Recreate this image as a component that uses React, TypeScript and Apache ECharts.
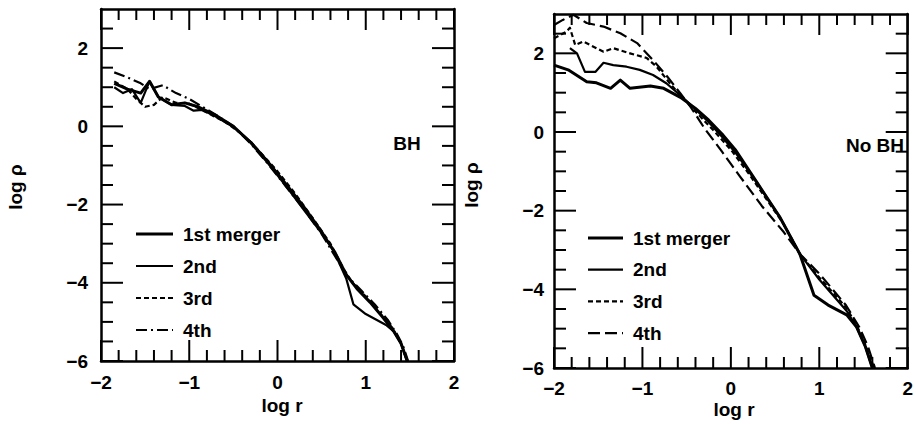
import React, { useEffect, useRef } from "react";
import * as echarts from "echarts";

// ---------- data: left panel (BH) ----------
const bh1X = [-1.85, -1.7, -1.55, -1.45, -1.35, -1.2, -1.05, -0.9, -0.7, -0.5, -0.3, -0.1, 0.1, 0.3, 0.5, 0.65, 0.78, 0.9, 1.05, 1.2, 1.32, 1.4, 1.47];
const bh1Y = [1.1, 0.95, 0.85, 1.15, 0.75, 0.55, 0.6, 0.5, 0.28, 0.0, -0.42, -0.95, -1.52, -2.12, -2.72, -3.22, -3.8, -4.15, -4.5, -4.9, -5.25, -5.55, -6.0];
const bh2X = [-1.85, -1.75, -1.65, -1.55, -1.45, -1.35, -1.2, -1.05, -0.95, -0.85, -0.7, -0.5, -0.3, -0.1, 0.1, 0.3, 0.5, 0.65, 0.78, 0.86, 1.0, 1.23, 1.32, 1.4, 1.47];
const bh2Y = [1.0, 0.85, 0.95, 0.6, 1.15, 0.75, 0.55, 0.52, 0.4, 0.42, 0.25, -0.02, -0.4, -0.92, -1.47, -2.05, -2.68, -3.25, -3.9, -4.55, -4.8, -5.08, -5.25, -5.55, -6.02];
const bh3X = [-1.85, -1.7, -1.6, -1.5, -1.4, -1.3, -1.15, -1.0, -0.8, -0.6, -0.4, -0.2, 0.0, 0.2, 0.4, 0.6, 0.75, 0.85, 1.0, 1.15, 1.3, 1.4, 1.47];
const bh3Y = [1.15, 0.95, 0.7, 0.5, 0.55, 0.75, 0.6, 0.58, 0.35, 0.12, -0.2, -0.65, -1.15, -1.72, -2.35, -3.0, -3.65, -4.0, -4.35, -4.75, -5.15, -5.55, -6.0];
const bh4X = [-1.85, -1.7, -1.55, -1.45, -1.3, -1.15, -1.0, -0.85, -0.7, -0.5, -0.3, -0.1, 0.1, 0.3, 0.5, 0.7, 0.8, 0.95, 1.1, 1.25, 1.35, 1.42, 1.48];
const bh4Y = [1.38, 1.25, 1.1, 0.95, 1.05, 0.85, 0.7, 0.5, 0.3, 0.0, -0.45, -0.98, -1.55, -2.12, -2.75, -3.5, -3.85, -4.2, -4.55, -4.95, -5.3, -5.6, -6.0];

// ---------- data: right panel (No BH) ----------
const nb1X = [-2.0, -1.84, -1.63, -1.52, -1.36, -1.25, -1.14, -0.91, -0.76, -0.57, -0.4, -0.25, -0.1, 0.05, 0.3, 0.55, 0.78, 0.94, 1.1, 1.31, 1.42, 1.52, 1.6];
const nb1Y = [1.7, 1.58, 1.28, 1.25, 1.11, 1.32, 1.11, 1.17, 1.11, 0.88, 0.6, 0.3, -0.05, -0.45, -1.3, -2.15, -3.1, -4.15, -4.4, -4.65, -4.95, -5.45, -6.0];
const nb2X = [-1.82, -1.74, -1.65, -1.53, -1.44, -1.33, -1.18, -1.03, -0.88, -0.73, -0.57, -0.4, -0.25, -0.1, 0.05, 0.3, 0.55, 0.78, 1.0, 1.31, 1.42, 1.52, 1.6];
const nb2Y = [2.13, 2.0, 1.53, 1.53, 1.76, 1.7, 1.66, 1.58, 1.45, 1.24, 0.93, 0.58, 0.25, -0.12, -0.52, -1.3, -2.15, -3.1, -3.75, -4.55, -4.95, -5.45, -6.0];
const nb3X = [-2.0, -1.86, -1.82, -1.76, -1.67, -1.44, -1.33, -1.14, -0.95, -0.84, -0.69, -0.57, -0.4, -0.2, 0.0, 0.2, 0.4, 0.6, 0.78, 1.0, 1.3, 1.42, 1.52, 1.62];
const nb3Y = [2.38, 2.55, 2.65, 2.21, 2.3, 2.04, 2.13, 2.0, 1.88, 1.66, 1.24, 0.93, 0.52, 0.05, -0.45, -1.05, -1.7, -2.35, -3.1, -3.7, -4.45, -4.9, -5.4, -6.0];
const nb4X = [-2.0, -1.9, -1.78, -1.63, -1.44, -1.25, -1.06, -0.88, -0.72, -0.57, -0.45, -0.3, -0.1, 0.1, 0.35, 0.6, 0.78, 1.0, 1.3, 1.45, 1.55, 1.63];
const nb4Y = [2.72, 2.85, 2.98, 2.77, 2.68, 2.51, 2.26, 1.83, 1.41, 0.98, 0.62, 0.1, -0.5, -1.12, -1.88, -2.55, -3.1, -3.6, -4.4, -4.95, -5.45, -6.0];

const seriesNames = ["1st merger", "2nd", "3rd", "4th"];
const xMin = -2;
const xMax = 2;
const yMin = -6;
const yMax = 3;
const xMajorTicks = [-2, -1, 0, 1, 2];
const xMinorTicks = [-1.8, -1.6, -1.4, -1.2, -0.8, -0.6, -0.4, -0.2, 0.2, 0.4, 0.6, 0.8, 1.2, 1.4, 1.6, 1.8];
const yMajorTicks = [-6, -4, -2, 0, 2];
const yMinorTicks = [-5.5, -5, -4.5, -3.5, -3, -2.5, -1.5, -1, -0.5, 0.5, 1, 1.5, 2.5];

const zip = (xs: number[], ys: number[]) => xs.map((x, i) => [x, ys[i]]);

const FONT = "Liberation Sans";

const fmt = (v: number) => (v < 0 ? "\u2212" + Math.abs(v) : String(v));

export default function App() {
  const ref = useRef<HTMLDivElement>(null);

  useEffect(() => {
    if (!ref.current) return;
    const chart = echarts.init(ref.current, undefined, { renderer: "svg" });

    const grids = [
      { left: 101, top: 9, width: 353, height: 352 },
      { left: 554, top: 14, width: 354, height: 354 },
    ];

    const labelStyle = { color: "#000", fontFamily: FONT, fontWeight: "bold" as const, fontSize: 19 };
    const mkLine = () => ({ show: true, onZero: false, lineStyle: { color: "#000", width: 2.5 } });

    const xAxis: any[] = [];
    const yAxis: any[] = [];
    grids.forEach((_, g) => {
      xAxis.push({
        type: "value",
        gridIndex: g,
        min: xMin,
        max: xMax,
        interval: 1,
        axisLine: mkLine(),
        axisTick: { show: false },
        axisLabel: { margin: g === 0 ? 12 : 11, formatter: fmt, ...labelStyle },
        splitLine: { show: false },
      });
      xAxis.push({
        type: "value",
        gridIndex: g,
        position: "top",
        min: xMin,
        max: xMax,
        interval: 1,
        axisLine: mkLine(),
        axisTick: { show: false },
        axisLabel: { show: false },
        splitLine: { show: false },
      });
      yAxis.push({
        type: "value",
        gridIndex: g,
        min: yMin,
        max: yMax,
        interval: 2,
        axisLine: mkLine(),
        axisTick: { show: false },
        axisLabel: { margin: g === 0 ? 13 : 10, showMaxLabel: false, formatter: fmt, ...labelStyle },
        splitLine: { show: false },
      });
      yAxis.push({
        type: "value",
        gridIndex: g,
        position: "right",
        min: yMin,
        max: yMax,
        interval: 2,
        axisLine: mkLine(),
        axisTick: { show: false },
        axisLabel: { show: false },
        splitLine: { show: false },
      });
    });

    const styles = [
      { width: 3, dash: null as any },
      { width: 2.2, dash: null as any },
      { width: 2.2, dash: [5, 3] },
    ];
    const fourthLeft = { width: 2.2, dash: [11, 4, 2, 4] };
    const fourthRight = { width: 2.2, dash: [12, 5] };
    const styleOf = (g: number, i: number) => (i < 3 ? styles[i] : g === 0 ? fourthLeft : fourthRight);

    const leftData = [zip(bh1X, bh1Y), zip(bh2X, bh2Y), zip(bh3X, bh3Y), zip(bh4X, bh4Y)];
    const rightData = [zip(nb1X, nb1Y), zip(nb2X, nb2Y), zip(nb3X, nb3Y), zip(nb4X, nb4Y)];

    const series: any[] = [];
    [leftData, rightData].forEach((panel, g) => {
      panel.forEach((d, i) => {
        const ls = styleOf(g, i);
        series.push({
          type: "line",
          name: seriesNames[i],
          xAxisIndex: g * 2,
          yAxisIndex: g * 2,
          data: d,
          symbol: "none",
          lineStyle: { color: "#000", width: ls.width, type: ls.dash ? ls.dash : "solid", join: "round" },
          itemStyle: { color: "#000" },
        });
      });
    });

    chart.setOption({
      animation: false,
      grid: grids,
      xAxis,
      yAxis,
      series,
    });

    // legend drawn as graphic elements (line sample + label)
    const legendPos = [
      { x: 136, y: 234, w: 37, step: 32 },
      { x: 588, y: 238, w: 35, step: 31.7 },
    ];
    const legendEls: any[] = [];
    legendPos.forEach((p, g) => {
      seriesNames.forEach((name, i) => {
        const ls = styleOf(g, i);
        const y = p.y + i * p.step;
        legendEls.push({
          type: "line",
          shape: { x1: p.x, y1: y, x2: p.x + p.w, y2: y },
          style: { stroke: "#000", lineWidth: ls.width, lineDash: ls.dash || undefined },
        });
        legendEls.push({
          type: "text",
          x: p.x + p.w + 10,
          y,
          style: {
            text: name,
            fill: "#000",
            font: `bold 19px "${FONT}"`,
            textAlign: "left",
            textVerticalAlign: "middle",
          },
        });
      });
    });

    // tick marks: positions converted through each panel's axes, drawn inside on all four sides
    const tickEls: any[] = [];
    const tickLine = (x1: number, y1: number, x2: number, y2: number) =>
      tickEls.push({
        type: "line",
        z: 100,
        shape: { x1, y1, x2, y2 },
        style: { stroke: "#000", lineWidth: 2 },
      });
    [0, 1].forEach((g) => {
      const finder = { xAxisIndex: g * 2, yAxisIndex: g * 2 };
      const px = (x: number, y: number) => chart.convertToPixel(finder as any, [x, y]) as unknown as number[];
      const addX = (v: number, len: number) => {
        const b = px(v, yMin);
        const t = px(v, yMax);
        if (!b || !t) return;
        tickLine(b[0], b[1], b[0], b[1] - len);
        tickLine(t[0], t[1], t[0], t[1] + len);
      };
      const addY = (v: number, len: number) => {
        const l = px(xMin, v);
        const r = px(xMax, v);
        if (!l || !r) return;
        tickLine(l[0], l[1], l[0] + len, l[1]);
        tickLine(r[0], r[1], r[0] - len, r[1]);
      };
      xMajorTicks.forEach((v) => addX(v, 21));
      xMinorTicks.forEach((v) => addX(v, 11));
      yMajorTicks.forEach((v) => addY(v, 22));
      yMinorTicks.forEach((v) => addY(v, 12));
    });

    const titleText = (x: number, y: number, text: string, rotate = 0) => ({
      type: "text",
      x,
      y,
      rotation: rotate,
      style: {
        text,
        fill: "#000",
        font: `bold 19px "${FONT}"`,
        textAlign: "center",
        textVerticalAlign: "middle",
      },
    });

    chart.setOption({
      graphic: [
        ...tickEls,
        ...legendEls,
        titleText(282, 405, "log r"),
        titleText(734, 409, "log r"),
        titleText(15, 187, "log \u03C1", Math.PI / 2),
        titleText(471, 185, "log \u03C1", Math.PI / 2),
        titleText(407, 143, "BH"),
        titleText(875, 145, "No BH"),
      ],
    });

    return () => chart.dispose();
  }, []);

  return (
    <div
      ref={ref}
      style={{ position: "fixed", left: 0, top: 0, width: 916, height: 424, background: "#fff" }}
    />
  );
}
